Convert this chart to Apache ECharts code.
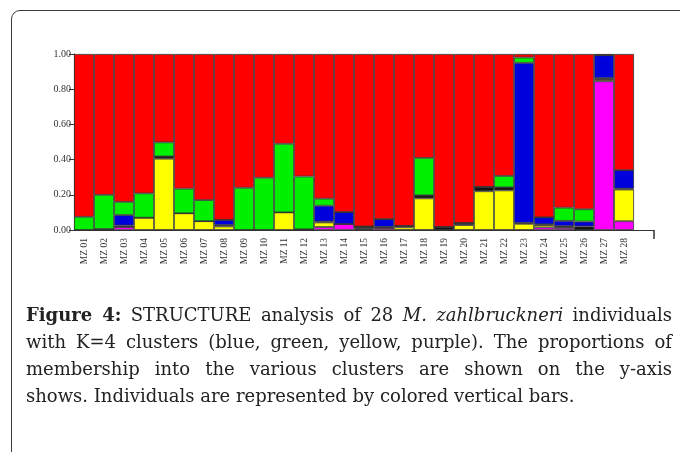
<!DOCTYPE html>
<html>
<head>
<meta charset="utf-8">
<script src="https://cdn.jsdelivr.net/npm/echarts@6/dist/echarts.min.js"></script>
<style>
  html, body { margin: 0; padding: 0; background: #fff; }
  #wrap { position: relative; width: 680px; height: 452px; overflow: hidden; }
  #frame {
    position: absolute; left: 11px; top: 10px; width: 700px; height: 480px;
    border: 1.5px solid #3a3a3a; border-radius: 9px; box-sizing: border-box;
  }
  #mychart { position: absolute; left: 0; top: 0; width: 680px; height: 452px; }
  #caption {
    position: absolute; left: 26px; top: 301px; width: 646px;
    font-family: "DejaVu Serif", "Liberation Serif", serif; font-size: 18px;
    line-height: 27px; color: #222;
  }
  #caption .ln { white-space: nowrap; text-align: justify; text-align-last: justify; }
  #caption .ln.last { text-align: left; text-align-last: left; }
</style>
</head>
<body>
<div id="wrap">
  <div id="frame"></div>
  <div id="mychart"></div>
  <div id="caption">
    <div class="ln"><b>Figure 4:</b> STRUCTURE analysis of 28 <i>M. zahlbruckneri</i> individuals</div>
    <div class="ln">with K=4 clusters (blue, green, yellow, purple). The proportions of</div>
    <div class="ln">membership into the various clusters are shown on the y-axis</div>
    <div class="ln last">shows. Individuals are represented by colored vertical bars.</div>
  </div>
</div>
<script>
  // individuals (last slot left empty so the axis runs past the bars)
  var individuals = ['MZ 01','MZ 02','MZ 03','MZ 04','MZ 05','MZ 06','MZ 07','MZ 08','MZ 09','MZ 10',
    'MZ 11','MZ 12','MZ 13','MZ 14','MZ 15','MZ 16','MZ 17','MZ 18','MZ 19','MZ 20',
    'MZ 21','MZ 22','MZ 23','MZ 24','MZ 25','MZ 26','MZ 27','MZ 28',''];
  var yTicks = [0, 0.2, 0.4, 0.6, 0.8, 1.0];

  // membership per cluster, bottom to top of each bar
  var purple = [0,0,0.018,0,0,0,0,0,0,0, 0,0,0.017,0.034,0.005,0.012,0,0,0,0, 0,0,0,0.015,0.012,0,0.845,0.05];
  var yellow = [0,0,0,0.07,0.405,0.095,0.05,0.02,0,0, 0.10,0,0.026,0,0.005,0,0.015,0.18,0,0.028, 0.22,0.225,0.035,0.013,0.006,0,0.008,0.18];
  var dark   = [0,0.005,0.007,0,0.013,0,0,0.008,0,0, 0,0.004,0.005,0,0.01,0.005,0.008,0.017,0.018,0.012, 0.025,0.017,0.005,0.004,0.004,0.02,0.01,0.005];
  var blue   = [0,0,0.06,0,0,0,0,0.03,0,0, 0,0,0.09,0.068,0,0.045,0,0,0,0, 0,0,0.91,0.04,0.03,0.028,0.13,0.105];
  var green  = [0.075,0.195,0.075,0.138,0.08,0.14,0.12,0,0.24,0.297, 0.39,0.30,0.04,0,0,0,0,0.213,0,0, 0,0.065,0.03,0,0.075,0.07,0,0];
  var red    = [0.925,0.80,0.84,0.792,0.502,0.765,0.83,0.942,0.76,0.703, 0.51,0.696,0.822,0.898,0.98,0.938,0.977,0.59,0.982,0.96, 0.755,0.693,0.02,0.928,0.873,0.882,0.007,0.66];

  var clusters = [
    { name: 'purple', data: purple, color: '#ff00ff' },
    { name: 'yellow', data: yellow, color: '#ffff00' },
    { name: 'dark',   data: dark,   color: '#111111' },
    { name: 'blue',   data: blue,   color: '#0000dd' },
    { name: 'green',  data: green,  color: '#00f000' },
    { name: 'red',    data: red,    color: '#ff0000' }
  ];

  var myChart = echarts.init(document.getElementById('mychart'));
  var opt = {
    animation: false,
    grid: { left: 74, top: 54, width: 580, height: 176 },
    xAxis: [{
      type: 'category',
      data: individuals,
      axisLine: { lineStyle: { color: '#333', width: 1 } },
      axisTick: {
        alignWithLabel: true, length: 6,
        interval: function (i) { return i < 28; },
        lineStyle: { color: '#333' }
      },
      axisLabel: {
        interval: 0, rotate: 90, margin: 8,
        fontFamily: 'Liberation Serif', fontSize: 9.5, color: '#333'
      }
    }, {
      // only used for the closing tick at the end of the x axis
      type: 'value', position: 'bottom', min: 0, max: 1, interval: 1,
      axisLine: { show: false },
      axisTick: { show: true, length: 9, customValues: [1], lineStyle: { color: '#333', width: 1.5 } },
      axisLabel: { show: false },
      splitLine: { show: false }
    }],
    yAxis: {
      type: 'value', min: 0, max: 1, interval: 0.2,
      axisLine: { show: true, lineStyle: { color: '#333', width: 1 } },
      axisTick: { show: true, length: 5, lineStyle: { color: '#333' } },
      splitLine: { show: false },
      axisLabel: {
        margin: 3, fontFamily: 'Liberation Serif', fontSize: 10, color: '#333',
        formatter: function (v) { return v.toFixed(2); }
      }
    },
    series: clusters.map(function (c) {
      return {
        name: c.name, type: 'bar', stack: 'k', barCategoryGap: '0%',
        data: c.data,
        itemStyle: { color: c.color, borderColor: '#333', borderWidth: 0.8 }
      };
    })
  };
  myChart.setOption(opt);
</script>
</body>
</html>
